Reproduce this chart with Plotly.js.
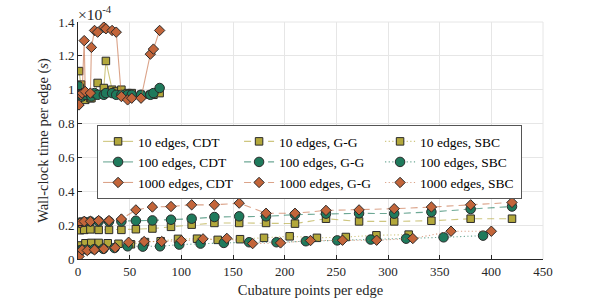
<!DOCTYPE html>
<html>
<head>
<meta charset="utf-8">
<script src="https://cdn.plot.ly/plotly-3.0.1.min.js"></script>
<style>html,body{margin:0;padding:0;background:#fff;}#chart{width:600px;height:300px;}</style>
</head>
<body>
<div id="chart"></div>
<script>
// Cubature points per edge (x values)
const xCDT = [1, 3, 4, 6, 7, 12, 13, 16, 19, 25, 27, 33, 37, 42, 48, 52, 61, 70, 73, 79];
const xGG = [2, 6, 12, 20, 30, 42, 56, 72, 90, 110, 132, 156, 182, 210, 240, 272, 306, 342, 380, 420];
const xSBC10 = [0.8, 3.2, 7.2, 12.8, 20, 28.8, 39.2, 51.2, 64.8, 80, 96.8, 115.2, 135.2, 156.8, 180, 204.8, 231.2, 259.2, 288.8, 320];
const xSBC100 = [0.98, 3.92, 8.82, 15.68, 24.5, 35.28, 48.02, 62.72, 79.38, 98, 118.58, 141.12, 165.62, 192.08, 220.5, 250.88, 283.22, 317.52, 353.78, 392];
const xSBC1000 = [1, 4, 9, 16, 25, 36, 49, 64, 81, 100, 121, 144, 169, 196, 225, 256, 289, 324, 361, 400];

// Wall-clock time per edge (x 1e-4 s)
const cdt10 = [1.11, 1.03, 0.98, 0.97, 0.94, 0.95, 0.95, 0.97, 1.04, 1.01, 1.17, 1.00, 0.99, 1.00, 0.98, 0.98, 0.97, 0.97, 0.97, 0.98];
const cdt100 = [1.02, 0.97, 0.96, 0.98, 0.97, 0.97, 0.96, 0.98, 0.97, 0.97, 0.98, 0.98, 0.97, 0.97, 0.97, 0.97, 0.97, 0.97, 0.98, 1.01];
const cdt1000 = [0.91, 0.97, 0.98, 1.29, 0.99, 0.98, 1.25, 1.35, 1.34, 1.37, 1.36, 1.35, 1.34, 0.96, 0.94, 0.95, 0.95, 1.21, 1.24, 1.35];

const gg10 = [0.17, 0.172, 0.175, 0.172, 0.172, 0.172, 0.176, 0.18, 0.19, 0.203, 0.213, 0.213, 0.213, 0.209, 0.238, 0.222, 0.222, 0.226, 0.238, 0.238];
const gg100 = [0.215, 0.22, 0.222, 0.222, 0.222, 0.222, 0.226, 0.228, 0.232, 0.238, 0.248, 0.252, 0.252, 0.262, 0.268, 0.27, 0.268, 0.278, 0.295, 0.31];
const gg1000 = [0.213, 0.222, 0.222, 0.227, 0.227, 0.236, 0.29, 0.307, 0.31, 0.32, 0.32, 0.33, 0.27, 0.27, 0.287, 0.29, 0.297, 0.307, 0.32, 0.334];

const sbc10 = [0.07, 0.08, 0.093, 0.095, 0.095, 0.093, 0.09, 0.087, 0.1, 0.105, 0.119, 0.12, 0.113, 0.117, 0.125, 0.134, 0.125, 0.13, 0.14, 0.144];
const sbc100 = [0.05, 0.055, 0.055, 0.058, 0.06, 0.065, 0.075, 0.073, 0.075, 0.085, 0.091, 0.095, 0.099, 0.099, 0.105, 0.11, 0.115, 0.12, 0.128, 0.138];
const sbc1000 = [0.015, 0.054, 0.05, 0.054, 0.06, 0.067, 0.099, 0.103, 0.103, 0.109, 0.119, 0.122, 0.091, 0.095, 0.109, 0.111, 0.111, 0.121, 0.164, 0.164];

const xTicks = [0, 50, 100, 150, 200, 250, 300, 350, 400, 450];
const yTicks = [0, 0.2, 0.4, 0.6, 0.8, 1, 1.2, 1.4];

const C10 = {m: '#b3a83b', l: 'rgba(179,168,59,0.65)', sym: 'square', size: 7.5};
const C100 = {m: '#1f7a5c', l: 'rgba(31,122,92,0.65)', sym: 'circle', size: 9.5};
const C1000 = {m: '#c3653a', l: 'rgba(195,101,58,0.6)', sym: 'diamond', size: 8};

function tr(x, y, name, c, dash) {
  return {
    type: 'scatter', mode: 'lines+markers', x: x, y: y, name: name,
    line: {color: c.l, width: 1.1, dash: dash},
    marker: {symbol: c.sym, size: c.size, color: c.m, line: {color: '#2a2a2a', width: 1}}
  };
}
const DASH = '7px,5px';
const DOT = '1.2px,2.4px';
const data = [
  tr(xCDT, cdt10, '10 edges, CDT', C10, 'solid'),
  tr(xGG, gg10, '10 edges, G-G', C10, DASH),
  tr(xSBC10, sbc10, '10 edges, SBC', C10, DOT),
  tr(xCDT, cdt100, '100 edges, CDT', C100, 'solid'),
  tr(xGG, gg100, '100 edges, G-G', C100, DASH),
  tr(xSBC100, sbc100, '100 edges, SBC', C100, DOT),
  tr(xCDT, cdt1000, '1000 edges, CDT', C1000, 'solid'),
  tr(xGG, gg1000, '1000 edges, G-G', C1000, DASH),
  tr(xSBC1000, sbc1000, '1000 edges, SBC', C1000, DOT)
];

const FONT = 'Liberation Serif';
const layout = {
  width: 600, height: 300,
  margin: {l: 78, r: 57, t: 22, b: 40.5},
  paper_bgcolor: '#fff', plot_bgcolor: '#fff',
  font: {family: FONT, size: 13, color: '#262626'},
  showlegend: true,
  legend: {
    orientation: 'h', x: 0.041, y: 0.565, xanchor: 'left', yanchor: 'top',
    bgcolor: '#fff', bordercolor: '#555', borderwidth: 1,
    font: {family: FONT, size: 13.5, color: '#000'},
    entrywidth: 96, entrywidthmode: 'pixels', tracegroupgap: 0, traceorder: 'normal'
  },
  xaxis: {
    range: [0, 450], tickvals: xTicks, ticktext: xTicks.map(String),
    showgrid: true, gridcolor: '#e6e6e6', gridwidth: 1, zeroline: false,
    showline: true, linecolor: '#262626', linewidth: 1,
    ticks: 'inside', ticklen: 4, tickcolor: '#262626',
    tickfont: {family: FONT, size: 13, color: '#262626'},
    title: {text: 'Cubature points per edge', font: {family: FONT, size: 14.5, color: '#262626'}, standoff: 7},
    automargin: false
  },
  yaxis: {
    range: [0, 1.4], tickvals: yTicks, ticktext: yTicks.map(String),
    showgrid: true, gridcolor: '#e6e6e6', gridwidth: 1, zeroline: false,
    showline: true, linecolor: '#262626', linewidth: 1,
    ticks: 'inside', ticklen: 4, tickcolor: '#262626',
    tickfont: {family: FONT, size: 13, color: '#262626'},
    title: {text: 'Wall-clock time per edge (<i>s</i>)', font: {family: FONT, size: 14.5, color: '#262626'}, standoff: 6},
    automargin: false
  },
  shapes: [
    {type: 'line', xref: 'paper', yref: 'paper', x0: 0, x1: 1, y0: 1, y1: 1, line: {color: '#e6e6e6', width: 1}, layer: 'below'},
    {type: 'line', xref: 'paper', yref: 'paper', x0: 1, x1: 1, y0: 0, y1: 1, line: {color: '#e6e6e6', width: 1}, layer: 'below'}
  ],
  annotations: [
    {xref: 'paper', yref: 'paper', x: 0, y: 1, xanchor: 'left', yanchor: 'bottom', yshift: -3, xshift: -2,
     text: '×10<sup>-4</sup>', showarrow: false, font: {family: FONT, size: 15.5, color: '#262626'}}
  ]
};
Plotly.newPlot('chart', data, layout, {displayModeBar: false, staticPlot: true});
</script>
</body>
</html>
